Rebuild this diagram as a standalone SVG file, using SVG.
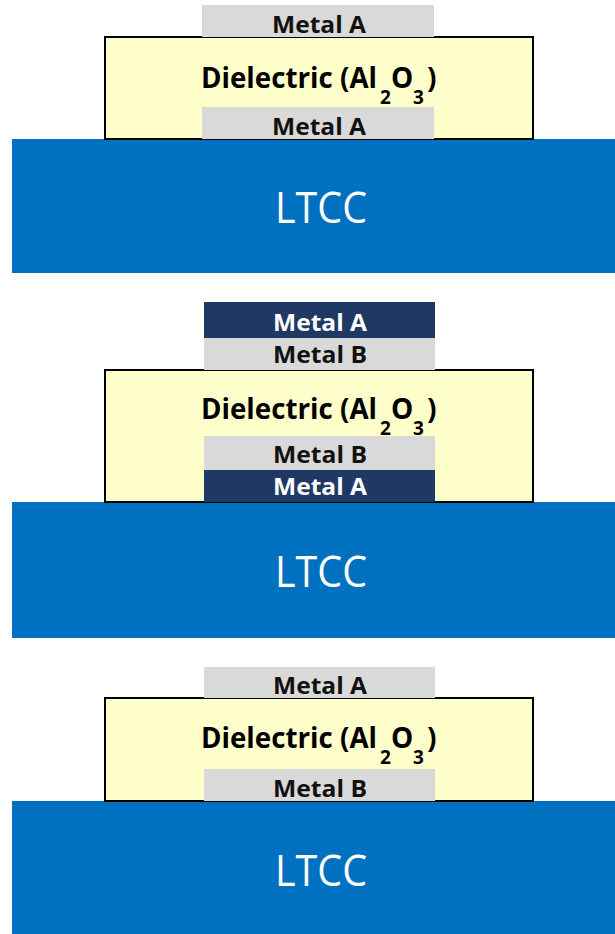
<svg xmlns="http://www.w3.org/2000/svg" width="615" height="934" viewBox="0 0 615 934">
  <style>
    .ltcc { fill: #0070C0; }
    .diel { fill: #FFFFCC; stroke: #000000; stroke-width: 2; }
    .metal { fill: #D9D9D9; }
    .navy { fill: #1F3864; }
    .ltcc-t { font-family: "Open Sans", "Noto Sans", sans-serif; font-size: 43px; fill: #ffffff; text-anchor: middle; }
    .m-t { font-family: "Open Sans", "Noto Sans", sans-serif; font-weight: bold; font-size: 24px; fill: #111111; text-anchor: middle; }
    .m-tw { fill: #ffffff; }
    .d-t { font-family: "Open Sans", "Noto Sans", sans-serif; font-weight: bold; font-size: 28px; fill: #000000; }
    .d-s { font-size: 19px; }
  </style>

  <!-- Stack 1: Metal A / Al2O3 / Metal A on LTCC -->
  <g id="stack1">
    <g id="s1-ltcc">
      <rect class="ltcc" x="12" y="139" width="603" height="134"/>
      <text class="ltcc-t" x="321" y="223" textLength="92" lengthAdjust="spacingAndGlyphs">LTCC</text>
    </g>
    <g id="s1-dielectric">
      <rect class="diel" x="105" y="37" width="428" height="102"/>
      <text class="d-t" y="88"><tspan x="201" textLength="176" lengthAdjust="spacingAndGlyphs">Dielectric (Al</tspan><tspan class="d-s" x="380" y="104">2</tspan><tspan x="391" y="88">O</tspan><tspan class="d-s" x="413" y="104">3</tspan><tspan x="427" y="88">)</tspan></text>
    </g>
    <g id="s1-top-metal-a">
      <rect class="metal" x="202" y="5" width="232" height="32"/>
      <text class="m-t" x="319" y="33" textLength="94" lengthAdjust="spacingAndGlyphs">Metal A</text>
    </g>
    <g id="s1-bottom-metal-a">
      <rect class="metal" x="202" y="107" width="232" height="32"/>
      <text class="m-t" x="319" y="135" textLength="94" lengthAdjust="spacingAndGlyphs">Metal A</text>
    </g>
  </g>

  <!-- Stack 2: Metal A + Metal B bilayers around Al2O3 on LTCC -->
  <g id="stack2">
    <g id="s2-ltcc">
      <rect class="ltcc" x="12" y="502" width="603" height="136"/>
      <text class="ltcc-t" x="321" y="587" textLength="92" lengthAdjust="spacingAndGlyphs">LTCC</text>
    </g>
    <g id="s2-dielectric">
      <rect class="diel" x="105" y="370" width="428" height="132"/>
      <text class="d-t" y="419"><tspan x="201" textLength="176" lengthAdjust="spacingAndGlyphs">Dielectric (Al</tspan><tspan class="d-s" x="380" y="435">2</tspan><tspan x="391" y="419">O</tspan><tspan class="d-s" x="413" y="435">3</tspan><tspan x="427" y="419">)</tspan></text>
    </g>
    <g id="s2-top-metal-a">
      <rect class="navy" x="204" y="302" width="231" height="36"/>
      <text class="m-t m-tw" x="320" y="331" textLength="94" lengthAdjust="spacingAndGlyphs">Metal A</text>
    </g>
    <g id="s2-top-metal-b">
      <rect class="metal" x="204" y="338" width="231" height="32"/>
      <text class="m-t" x="320" y="363" textLength="94" lengthAdjust="spacingAndGlyphs">Metal B</text>
    </g>
    <g id="s2-bottom-metal-b">
      <rect class="metal" x="204" y="436" width="231" height="34"/>
      <text class="m-t" x="320" y="463" textLength="94" lengthAdjust="spacingAndGlyphs">Metal B</text>
    </g>
    <g id="s2-bottom-metal-a">
      <rect class="navy" x="204" y="470" width="231" height="32"/>
      <text class="m-t m-tw" x="320" y="495" textLength="94" lengthAdjust="spacingAndGlyphs">Metal A</text>
    </g>
  </g>

  <!-- Stack 3: Metal A / Al2O3 / Metal B on LTCC -->
  <g id="stack3">
    <g id="s3-ltcc">
      <rect class="ltcc" x="12" y="801" width="603" height="133"/>
      <text class="ltcc-t" x="321" y="886" textLength="92" lengthAdjust="spacingAndGlyphs">LTCC</text>
    </g>
    <g id="s3-dielectric">
      <rect class="diel" x="105" y="698" width="428" height="103"/>
      <text class="d-t" y="748"><tspan x="201" textLength="176" lengthAdjust="spacingAndGlyphs">Dielectric (Al</tspan><tspan class="d-s" x="380" y="764">2</tspan><tspan x="391" y="748">O</tspan><tspan class="d-s" x="413" y="764">3</tspan><tspan x="427" y="748">)</tspan></text>
    </g>
    <g id="s3-top-metal-a">
      <rect class="metal" x="204" y="667" width="231" height="31"/>
      <text class="m-t" x="320" y="694" textLength="94" lengthAdjust="spacingAndGlyphs">Metal A</text>
    </g>
    <g id="s3-bottom-metal-b">
      <rect class="metal" x="204" y="769" width="231" height="32"/>
      <text class="m-t" x="320" y="797" textLength="94" lengthAdjust="spacingAndGlyphs">Metal B</text>
    </g>
  </g>

  <!-- no connectors in this cross-section drawing -->
  <g id="connectors"/>
</svg>
